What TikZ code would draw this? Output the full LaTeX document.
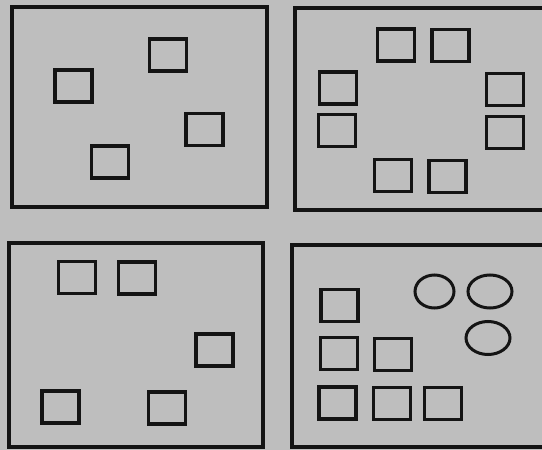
\documentclass[tikz,border=0pt]{standalone}
\usepackage{tikz}
\usetikzlibrary{positioning,shapes.geometric}
\definecolor{paper}{RGB}{190,190,190}
\definecolor{ink}{RGB}{20,20,20}
\tikzset{
  panel/.style={
    draw=ink,
    line width=1.6pt
  },
  cellbox/.style={
    draw=ink,
    line width=1.7pt,
    minimum width=18.5pt,
    minimum height=16pt,
    inner sep=0pt
  },
  ringbox/.style={
    draw=ink,
    ellipse,
    line width=1.5pt,
    minimum width=22pt,
    minimum height=16.5pt,
    inner sep=0pt
  }
}

\begin{document}
\begin{tikzpicture}[x=0.5pt, y=-0.5pt]
  \fill[paper] (0,0) rectangle (542,450);
  \useasboundingbox (0,0) rectangle (542,450);
  % four frames
  \draw[panel] (12,7) rectangle (267,207);
  \draw[panel] (295,8) rectangle (570,210);
  \draw[panel] (9,243) rectangle (263,447);
  \draw[panel] (292,245) rectangle (570,447);
  % top left
  \node[cellbox] (a1) at (73.5,86) {};
  \node[cellbox] (a2) at (168,55) {};
  \node[cellbox] (a3) at (204.5,129.5) {};
  \node[cellbox] (a4) at (110,162) {};
  % top right
  \node[cellbox] (b1) at (396,45) {};
  \node[cellbox] (b2) at (450.5,45.5) {};
  \node[cellbox] (b3) at (338,88) {};
  \node[cellbox] (b4) at (337,130.5) {};
  \node[cellbox] (b5) at (505,89.5) {};
  \node[cellbox] (b6) at (505,132.5) {};
  \node[cellbox] (b7) at (393,175.5) {};
  \node[cellbox] (b8) at (447.5,176.5) {};
  % bottom left
  \node[cellbox] (c1) at (77,277.5) {};
  \node[cellbox] (c2) at (137,278) {};
  \node[cellbox] (c3) at (214.5,350) {};
  \node[cellbox] (c4) at (60.5,407) {};
  \node[cellbox] (c5) at (167,408) {};
  % bottom right
  \node[cellbox] (d1) at (339.5,305.5) {};
  \node[cellbox] (d2) at (339,353.5) {};
  \node[cellbox] (d3) at (393,354.5) {};
  \node[cellbox] (d4) at (337.5,403) {};
  \node[cellbox] (d5) at (392,403.5) {};
  \node[cellbox] (d6) at (443,403.5) {};
  \node[ringbox, minimum width=19.5pt] (e1) at (434.5,291.5) {};
  \node[ringbox] (e2) at (490,291.5) {};
  \node[ringbox] (e3) at (488,338) {};
\end{tikzpicture}
\end{document}
